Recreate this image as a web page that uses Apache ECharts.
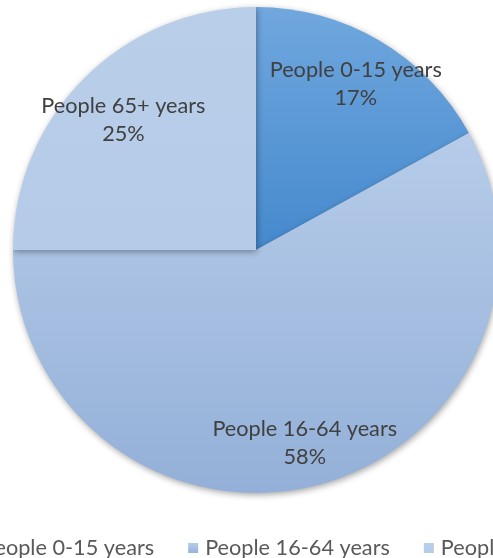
<!DOCTYPE html>
<html>
<head>
<meta charset="utf-8">
<script src="https://cdn.jsdelivr.net/npm/echarts@6/dist/echarts.min.js"></script>
<style>
html,body{margin:0;padding:0;background:#fff;}
#c{width:493px;height:558px;}
</style>
</head>
<body>
<div id="c"></div>
<script>
const categories = ['People 0-15 years', 'People 16-64 years', 'People 65+ years'];
const values = [17, 58, 25];

const grad = (a, b) => new echarts.graphic.LinearGradient(0, 0, 0, 1, [
  { offset: 0, color: a }, { offset: 1, color: b }
]);
const fills = [
  grad('#70a7de', '#4589cd'),
  grad('#b6cce9', '#94b0d8'),
  grad('#b9cee9', '#b5cbe7')
];
const legendFills = [
  grad('#6fa6dd', '#4a8ccf'),
  grad('#b6cce9', '#97b2d9'),
  grad('#b9cee9', '#b5cbe7')
];
const labelShifts = [
  { dx: 0, dy: 3 },
  { dx: 0, dy: 3 },
  { dx: 6, dy: 9 }
];

const chart = echarts.init(document.getElementById('c'), null, { renderer: 'canvas' });
const font = 'Lato, "Open Sans", sans-serif';

chart.setOption({
  animation: false,
  legend: {
    top: 532,
    left: -40,
    width: 900,
    orient: 'horizontal',
    itemWidth: 10,
    itemHeight: 10,
    itemGap: 34,
    icon: 'rect',
    data: categories.map((n, i) => ({ name: n, itemStyle: { color: legendFills[i] } })),
    textStyle: { fontFamily: font, fontSize: 21.7, color: '#595959', padding: [0, 0, 0, 2] }
  },
  series: [
    {
      type: 'pie',
      center: [256, 250],
      radius: [0, 243],
      startAngle: 90,
      clockwise: true,
      silent: true,
      label: { show: false },
      labelLine: { show: false },
      itemStyle: {
        borderWidth: 0,
        shadowBlur: 6,
        shadowColor: 'rgba(0,0,0,0.35)',
        shadowOffsetX: 1,
        shadowOffsetY: 2
      },
      data: categories.map((n, i) => ({ name: n, value: values[i], itemStyle: { color: fills[i] } }))
    },
    {
      type: 'pie',
      center: [256, 250],
      radius: [143, 243],
      startAngle: 90,
      clockwise: true,
      silent: true,
      legendHoverLink: false,
      itemStyle: { color: 'rgba(0,0,0,0)', borderWidth: 0 },
      label: {
        show: true,
        position: 'inside',
        formatter: p => p.name + '\n' + p.value + '%',
        fontFamily: font,
        fontSize: 21.7,
        lineHeight: 28,
        color: '#404040'
      },
      labelLayout: p => labelShifts[p.dataIndex],
      labelLine: { show: false },
      data: categories.map((n, i) => ({ name: n, value: values[i] }))
    }
  ]
});
</script>
</body>
</html>
